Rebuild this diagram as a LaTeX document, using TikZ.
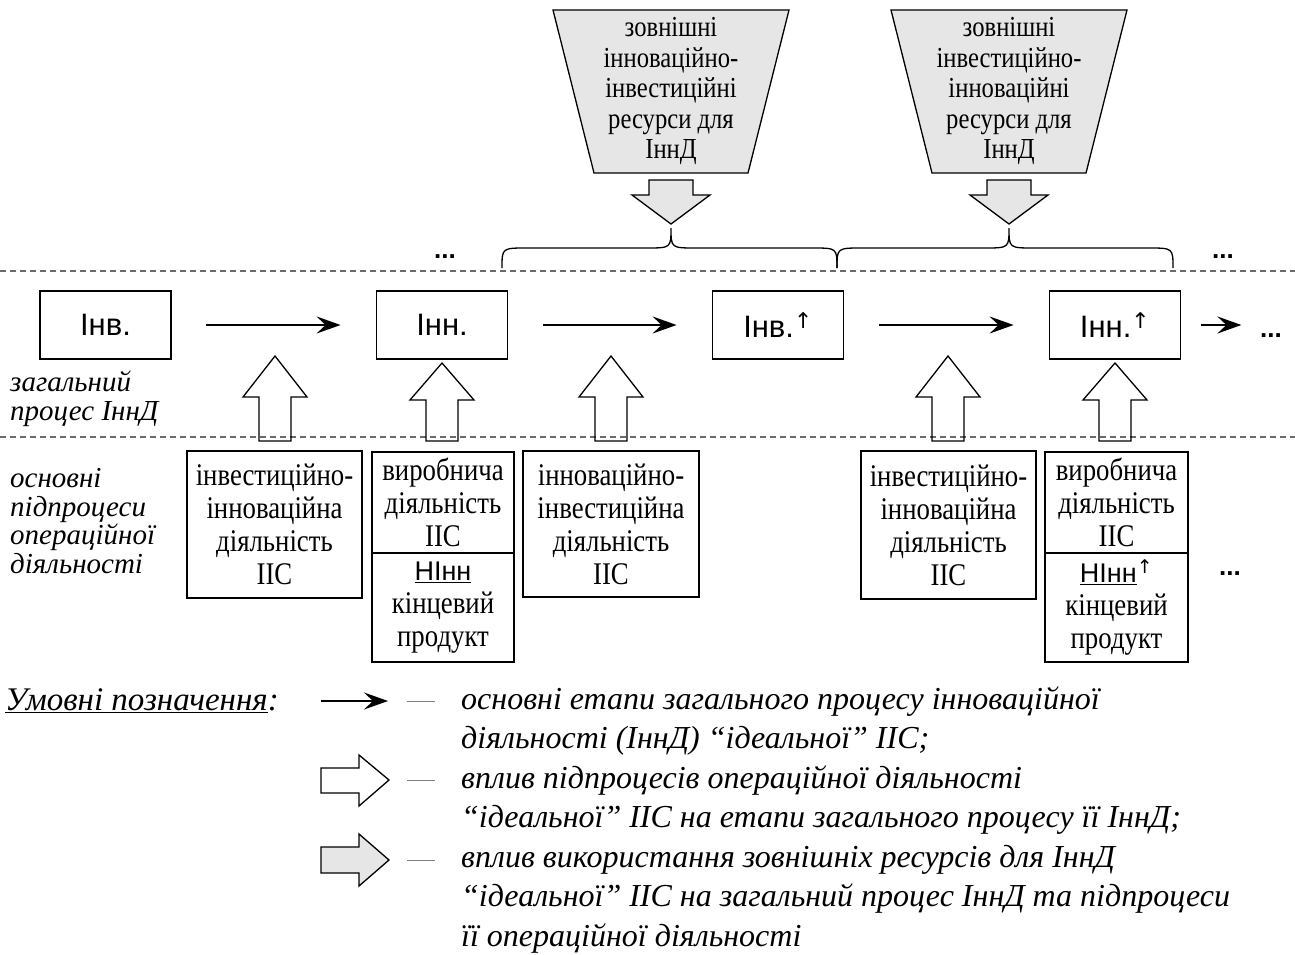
\documentclass[tikz,border=0pt]{standalone}
\usepackage{fontspec}
\setmainfont{Liberation Serif}
\setsansfont{Liberation Sans}
\newfontfamily\tallserif{Liberation Serif}[FakeStretch=0.85]
\newfontfamily\arrfont{DejaVu Sans}
\usetikzlibrary{arrows.meta}
\definecolor{resgray}{HTML}{E6E6E6}
\definecolor{dashgray}{HTML}{6A6A6A}
\newcommand\upsup{\textsuperscript{\arrfont ↑}}
\newcommand\UpBlock[3]{%
  \draw[hollow] (#1-16,441) -- (#1-16,#3) -- (#1-32,#3) -- (#1,#2) -- (#1+32,#3) -- (#1+16,#3) -- (#1+16,441) -- cycle;}
\newcommand\DownBlock[1]{%
  \draw[ext] (#1-22,180) -- (#1+22,180) -- (#1+22,195) -- (#1+39,195) -- (#1,224) -- (#1-39,195) -- (#1-22,195) -- cycle;}
\newcommand\BraceShape[3]{%
  \draw[line width=1.3pt] (#1,268) .. controls (#1,248) .. (#1+25,248) -- (#2-25,248) .. controls (#2,248) .. (#2,228)
    .. controls (#2,248) .. (#2+25,248) -- (#3-25,248) .. controls (#3,248) .. (#3,268);}
\newcommand\Trap[1]{%
  \draw[ext] (#1-118,10) -- (#1+118,10) -- (#1+77,173) -- (#1-77,173) -- cycle;}
\begin{document}
\begin{tikzpicture}[x=1pt,y=-1pt,
  mainbox/.style={draw, line width=1.8pt, minimum width=131pt, minimum height=68pt, inner sep=0pt,
    font=\sffamily\fontsize{31}{31}\selectfont},
  subbox/.style={draw, line width=1.3pt, inner sep=0pt, align=center,
    font=\tallserif\fontsize{31.5}{33}\selectfont},
  restext/.style={align=center, inner sep=0pt, font=\tallserif\fontsize{29}{30.5}\selectfont},
  flow/.style={line width=2.3pt, -{Stealth[length=24pt,width=17pt,inset=9pt]}},
  hollow/.style={draw, line width=1.3pt},
  ext/.style={draw, line width=1.3pt, fill=resgray},
  dline/.style={dashgray, line width=1.5pt, dash pattern=on 6pt off 4pt},
  side/.style={anchor=west, align=left, inner sep=0pt, font=\itshape\fontsize{29}{28.5}\selectfont},
  dots/.style={inner sep=0pt, font=\sffamily\bfseries\fontsize{26}{26}\selectfont},
  legdash/.style={gray, line width=1pt}
]
\useasboundingbox (0,0) rectangle (1295,955);
\fill[white] (0,0) rectangle (1295,955);

% dashed separators
\draw[dline] (0,271) -- (1295,271);
\draw[dline] (0,437) -- (1295,437);

% external resources
\Trap{671}
\node[restext] (res1) at (671,91) {зовнішні\\інноваційно-\\інвестиційні\\ресурси для\\ІннД};
\DownBlock{671}
\BraceShape{502}{671}{837}

\Trap{1009}
\node[restext] (res2) at (1009,91) {зовнішні\\інвестиційно-\\інноваційні\\ресурси для\\ІннД};
\DownBlock{1009}
\BraceShape{837}{1009}{1173}

\node[dots] (dotsA) at (445,257) {...};
\node[dots] (dotsB) at (1223,257) {...};

% main process
\node[mainbox] (inv1) at (105.5,325) {Інв.};
\node[mainbox] (inn1) at (442,325) {Інн.};
\node[mainbox] (inv2) at (778,325) {Інв.\upsup};
\node[mainbox] (inn2) at (1115,325) {Інн.\upsup};
\node[dots] (dotsC) at (1271,336) {...};

\draw[flow, shorten <=34pt, shorten >=35pt] (inv1) -- (inn1);
\draw[flow, shorten <=35pt, shorten >=35pt] (inn1) -- (inv2);
\draw[flow, shorten <=35pt, shorten >=35pt] (inv2) -- (inn2);
\draw[flow] ([xshift=20pt]inn2.east) -- ([xshift=60pt]inn2.east);

\node[side] (lab1) at (10,399) {загальний\\процес ІннД};
\node[side] (lab2) at (10,521) {основні\\підпроцеси\\операційної\\діяльності};

% up block arrows
\UpBlock{275}{356}{397}
\UpBlock{442}{363}{400}
\UpBlock{611}{356}{397}
\UpBlock{948}{356}{397}
\UpBlock{1115}{363}{400}

% sub-processes
\node[subbox, minimum width=175pt, minimum height=147pt] (subA) at (274.5,524.5)
  {інвестиційно-\\інноваційна\\діяльність\\ІІС};
\node[subbox, minimum width=142pt, minimum height=101pt] (subB) at (443,502.5)
  {виробнича\\діяльність\\ІІС};
\node[subbox, minimum width=142pt, minimum height=109pt] (prodB) at (443,607.5)
  {{\sffamily\fontsize{27}{33}\selectfont\underline{НІнн}}\\кінцевий\\продукт};
\node[subbox, minimum width=176pt, minimum height=146pt] (subC) at (611,524)
  {інноваційно-\\інвестиційна\\діяльність\\ІІС};
\node[subbox, minimum width=175pt, minimum height=148pt] (subD) at (948.5,525)
  {інвестиційно-\\інноваційна\\діяльність\\ІІС};
\node[subbox, minimum width=143pt, minimum height=101pt] (subE) at (1116.5,502.5)
  {виробнича\\діяльність\\ІІС};
\node[subbox, minimum width=143pt, minimum height=109pt] (prodE) at (1116.5,607.5)
  {{\sffamily\fontsize{27}{33}\selectfont\underline{НІнн}\upsup}\\кінцевий\\продукт};
\node[dots] (dotsD) at (1230,574) {...};

% legend
\node[anchor=west, inner sep=0pt, font=\itshape\fontsize{33}{33}\selectfont] (legtitle) at (5,701) {\underline{Умовні позначення}:};
\coordinate (lgA) at (321,701);
\coordinate (lgB) at (388,701);
\draw[flow] (lgA) -- (lgB);
\draw[hollow] (321,768) -- (359,768) -- (359,755) -- (389,780) -- (359,806) -- (359,793) -- (321,793) -- cycle;
\draw[ext] (321,847) -- (359,847) -- (359,834) -- (389,860) -- (359,886) -- (359,873) -- (321,873) -- cycle;
\draw[legdash] (407,701) -- (435,701);
\draw[legdash] (407,780) -- (435,780);
\draw[legdash] (407,860) -- (435,860);
\node[anchor=west, align=left, inner sep=0pt, font=\itshape\fontsize{32}{39.5}\selectfont] (legtext) at (461,820)
  {основні етапи загального процесу інноваційної\\
   діяльності (ІннД) “ідеальної” ІІС;\\
   вплив підпроцесів операційної діяльності\\
   “ідеальної” ІІС на етапи загального процесу її ІннД;\\
   вплив використання зовнішніх ресурсів для ІннД\\
   “ідеальної” ІІС на загальний процес ІннД та підпроцеси\\
   її операційної діяльності};
\end{tikzpicture}
\end{document}
